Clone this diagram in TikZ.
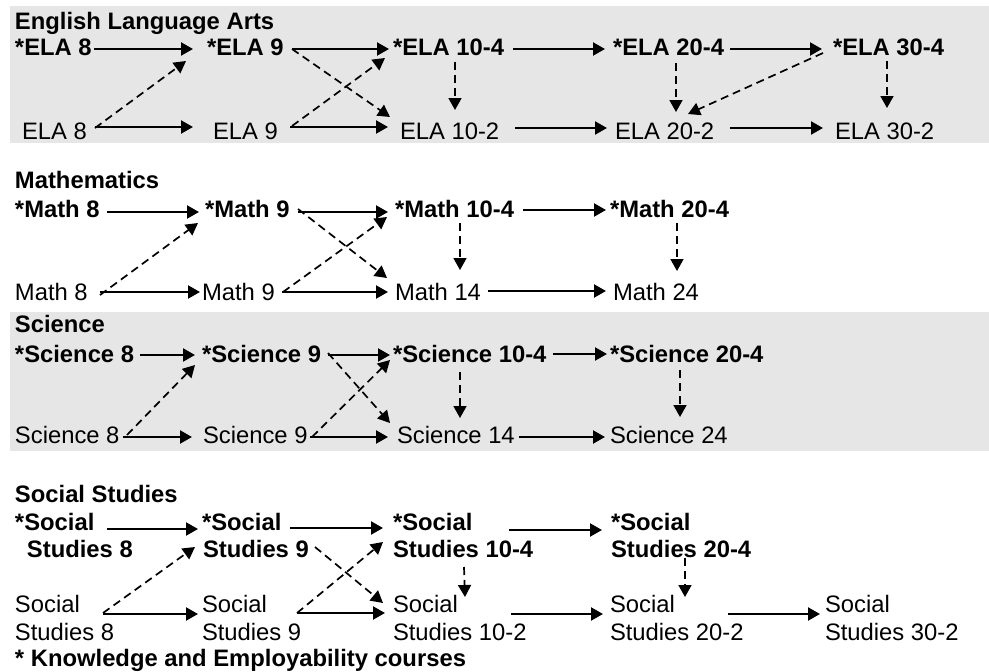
\documentclass[tikz,border=0pt]{standalone}
\usepackage{fontspec}
\setmainfont{Liberation Sans}
\usetikzlibrary{arrows.meta}
\definecolor{bandgray}{RGB}{230,230,230}
\tikzset{
  lbl/.style={anchor=base west, inner sep=0pt, outer sep=0pt, font=\fontsize{23.8}{28}\selectfont},
  blbl/.style={lbl, font=\fontsize{23.8}{28}\selectfont\bfseries},
  arr/.style={line width=2.2pt, -{Triangle[length=12pt,width=13pt]}},
  darr/.style={line width=1.7pt, dash pattern=on 8pt off 5pt, -{Triangle[length=12pt,width=13pt]}},
  band/.style={fill=bandgray, draw=none}
}
\begin{document}
\begin{tikzpicture}[x=1pt,y=-1pt]
\useasboundingbox (0,0) rectangle (989,672);
\fill[band] (10,6) rectangle (989,143);
\fill[band] (10,312) rectangle (989,451);

% ---------- English Language Arts ----------
\node[blbl] (elat) at (15,29) {English Language Arts};
\node[blbl] (ela8k) at (15,55) {*ELA 8};
\node[blbl] (ela9k) at (207,55) {*ELA 9};
\node[blbl] (ela104) at (393,55) {*ELA 10-4};
\node[blbl] (ela204) at (613,55) {*ELA 20-4};
\node[blbl] (ela304) at (833,55) {*ELA 30-4};
\node[lbl] (ela8) at (22,139) {ELA 8};
\node[lbl] (ela9) at (213,139) {ELA 9};
\node[lbl] (ela102) at (400,139) {ELA 10-2};
\node[lbl] (ela202) at (615,139) {ELA 20-2};
\node[lbl] (ela302) at (835,139) {ELA 30-2};

\draw[arr] ([shift={(79,-6)}]ela8k.base west) -- ([shift={(-14,-6)}]ela9k.base west);
\draw[arr] ([shift={(85,-6)}]ela9k.base west) -- ([shift={(-4,-6)}]ela104.base west);
\draw[arr] ([shift={(120,-6)}]ela104.base west) -- ([shift={(-8,-6)}]ela204.base west);
\draw[arr] ([shift={(117,-6)}]ela204.base west) -- ([shift={(-11,-6)}]ela304.base west);
\draw[arr] ([shift={(73,-12)}]ela8.base west) -- ([shift={(-20,-12)}]ela9.base west);
\draw[arr] ([shift={(77,-12)}]ela9.base west) -- ([shift={(-12,-12)}]ela102.base west);
\draw[arr] ([shift={(115,-11)}]ela102.base west) -- ([shift={(-8,-11)}]ela202.base west);
\draw[arr] ([shift={(115,-11)}]ela202.base west) -- ([shift={(-12,-11)}]ela302.base west);

\draw[darr] ([shift={(73,-11)}]ela8.base west) -- ([shift={(-21,6)}]ela9k.base west);
\draw[darr] ([shift={(85,-6)}]ela9k.base west) -- ([shift={(-10,-22)}]ela102.base west);
\draw[darr] ([shift={(79,-13)}]ela9.base west) -- ([shift={(-8,3)}]ela104.base west);
\draw[darr] ([shift={(62,7)}]ela104.base west) -- ([shift={(55,-29)}]ela102.base west);
\draw[darr] ([shift={(63,8)}]ela204.base west) -- ([shift={(61,-27)}]ela202.base west);
\draw[darr] ([shift={(-10,-2)}]ela304.base west) -- ([shift={(73,-25)}]ela202.base west);
\draw[darr] ([shift={(54,6)}]ela304.base west) -- ([shift={(52,-31)}]ela302.base west);

% ---------- Mathematics ----------
\node[blbl] (matht) at (15,188) {Mathematics};
\node[blbl] (m8k) at (15,217) {*Math 8};
\node[blbl] (m9k) at (205,217) {*Math 9};
\node[blbl] (m104) at (395,217) {*Math 10-4};
\node[blbl] (m204) at (610,217) {*Math 20-4};
\node[lbl] (m8) at (15,300) {Math 8};
\node[lbl] (m9) at (202,300) {Math 9};
\node[lbl] (m14) at (395,300) {Math 14};
\node[lbl] (m24) at (613,300) {Math 24};

\draw[arr] ([shift={(92,-5)}]m8k.base west) -- ([shift={(-6,-5)}]m9k.base west);
\draw[arr] ([shift={(93,-5)}]m9k.base west) -- ([shift={(-7,-5)}]m104.base west);
\draw[arr] ([shift={(128,-7)}]m104.base west) -- ([shift={(-4,-7)}]m204.base west);
\draw[arr] ([shift={(85,-8)}]m8.base west) -- ([shift={(-2,-8)}]m9.base west);
\draw[arr] ([shift={(80,-8)}]m9.base west) -- ([shift={(-7,-8)}]m14.base west);
\draw[arr] ([shift={(93,-9)}]m14.base west) -- ([shift={(-7,-9)}]m24.base west);

\draw[darr] ([shift={(85,-5)}]m8.base west) -- ([shift={(-7,6)}]m9k.base west);
\draw[darr] ([shift={(93,-8)}]m9k.base west) -- ([shift={(-8,-22)}]m14.base west);
\draw[darr] ([shift={(81,-8)}]m9.base west) -- ([shift={(-8,0)}]m104.base west);
\draw[darr] ([shift={(65,6)}]m104.base west) -- ([shift={(65,-30)}]m14.base west);
\draw[darr] ([shift={(67,6)}]m204.base west) -- ([shift={(64,-29)}]m24.base west);

% ---------- Science ----------
\node[blbl] (scit) at (15,332) {Science};
\node[blbl] (s8k) at (15,362) {*Science 8};
\node[blbl] (s9k) at (202,362) {*Science 9};
\node[blbl] (s104) at (393,362) {*Science 10-4};
\node[blbl] (s204) at (610,362) {*Science 20-4};
\node[lbl] (s8) at (15,443) {Science 8};
\node[lbl] (s9) at (203,443) {Science 9};
\node[lbl] (s14) at (397,443) {Science 14};
\node[lbl] (s24) at (610,443) {Science 24};

\draw[arr] ([shift={(125,-7)}]s8k.base west) -- ([shift={(-7,-7)}]s9k.base west);
\draw[arr] ([shift={(126,-7)}]s9k.base west) -- ([shift={(-3,-7)}]s104.base west);
\draw[arr] ([shift={(160,-8)}]s104.base west) -- ([shift={(-3,-8)}]s204.base west);
\draw[arr] ([shift={(108,-6)}]s8.base west) -- ([shift={(-11,-6)}]s9.base west);
\draw[arr] ([shift={(107,-6)}]s9.base west) -- ([shift={(-9,-6)}]s14.base west);
\draw[arr] ([shift={(122,-6)}]s14.base west) -- ([shift={(-5,-6)}]s24.base west);

\draw[darr] ([shift={(112,-8)}]s8.base west) -- ([shift={(-7,3)}]s9k.base west);
\draw[darr] ([shift={(126,-9)}]s9k.base west) -- ([shift={(-7,-20)}]s14.base west);
\draw[darr] ([shift={(109,-6)}]s9.base west) -- ([shift={(-3,-2)}]s104.base west);
\draw[darr] ([shift={(67,10)}]s104.base west) -- ([shift={(63,-25)}]s14.base west);
\draw[darr] ([shift={(70,8)}]s204.base west) -- ([shift={(70,-26)}]s24.base west);

% ---------- Social Studies ----------
\node[blbl] (sst) at (15,502) {Social Studies};
\node[blbl] (ss8ka) at (15,530) {*Social};
\node[blbl] (ss8kb) at (27,557) {Studies 8};
\node[blbl] (ss9ka) at (202,530) {*Social};
\node[blbl] (ss9kb) at (203,557) {Studies 9};
\node[blbl] (ss104a) at (393,530) {*Social};
\node[blbl] (ss104b) at (393,557) {Studies 10-4};
\node[blbl] (ss204a) at (611,530) {*Social};
\node[blbl] (ss204b) at (611,557) {Studies 20-4};
\node[lbl] (ss8a) at (15,612) {Social};
\node[lbl] (ss8b) at (15,640) {Studies 8};
\node[lbl] (ss9a) at (202,612) {Social};
\node[lbl] (ss9b) at (202,640) {Studies 9};
\node[lbl] (ss102a) at (393,612) {Social};
\node[lbl] (ss102b) at (393,640) {Studies 10-2};
\node[lbl] (ss202a) at (610,612) {Social};
\node[lbl] (ss202b) at (610,640) {Studies 20-2};
\node[lbl] (ss302a) at (825,612) {Social};
\node[lbl] (ss302b) at (825,640) {Studies 30-2};

\draw[arr] ([shift={(92,-1)}]ss8ka.base west) -- ([shift={(-4,-1)}]ss9ka.base west);
\draw[arr] ([shift={(88,-2)}]ss9ka.base west) -- ([shift={(-10,-2)}]ss104a.base west);
\draw[arr] ([shift={(116,0)}]ss104a.base west) -- ([shift={(-9,0)}]ss204a.base west);
\draw[arr] ([shift={(88,2)}]ss8a.base west) -- ([shift={(-4,2)}]ss9a.base west);
\draw[arr] ([shift={(95,1)}]ss9a.base west) -- ([shift={(-8,1)}]ss102a.base west);
\draw[arr] ([shift={(118,2)}]ss102a.base west) -- ([shift={(-7,2)}]ss202a.base west);
\draw[arr] ([shift={(118,2)}]ss202a.base west) -- ([shift={(-5,2)}]ss302a.base west);

\draw[darr] ([shift={(88,1)}]ss8a.base west) -- ([shift={(-8,-10)}]ss9kb.base west);
\draw[darr] ([shift={(112,-10)}]ss9kb.base west) -- ([shift={(-10,-9)}]ss102a.base west);
\draw[darr] ([shift={(95,1)}]ss9a.base west) -- ([shift={(-10,-15)}]ss104b.base west);
\draw[darr] ([shift={(71,10)}]ss104b.base west) -- ([shift={(72,-15)}]ss102a.base west);
\draw[darr] ([shift={(74,1)}]ss204b.base west) -- ([shift={(75,-15)}]ss202a.base west);

\node[blbl] (foot) at (15,666) {* Knowledge and Employability courses};
\end{tikzpicture}
\end{document}
